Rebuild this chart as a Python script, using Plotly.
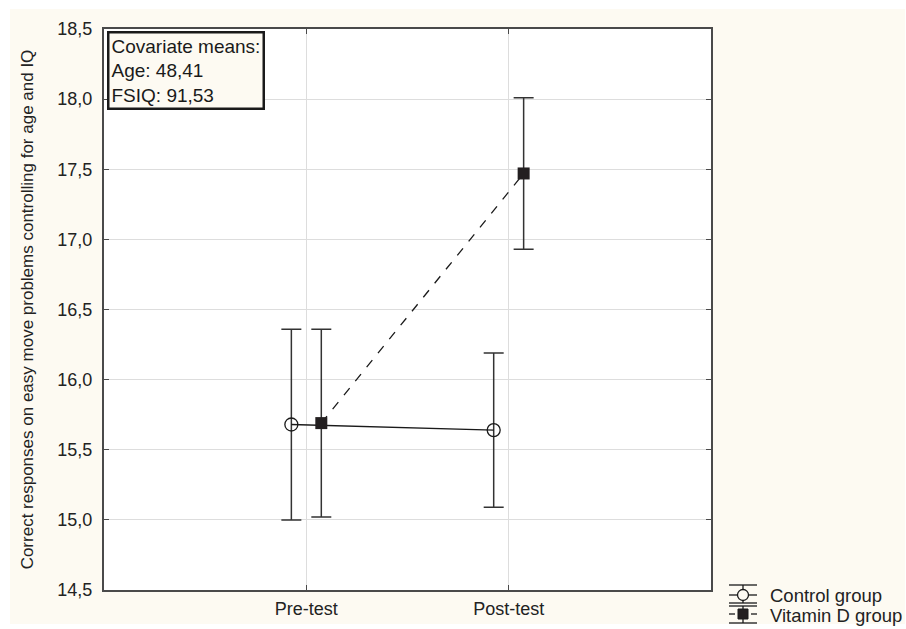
import plotly.graph_objects as go

categories = ["Pre-test", "Post-test"]
control_means = [15.68, 15.64]
control_ci = [0.68, 0.55]
vitd_means = [15.69, 17.47]
vitd_ci = [0.67, 0.54]
y_ticks = [14.5, 15.0, 15.5, 16.0, 16.5, 17.0, 17.5, 18.0, 18.5]
covariate_text = ["Covariate means:", "Age: 48,41", "FSIQ: 91,53"]
legend_names = ["Control group", "Vitamin D group"]

pos = [i + 1 for i in range(len(categories))]
off = 0.074
font = "Liberation Sans, Arial, sans-serif"
ink = "#1a1a1a"
cream = "#fdfaf2"

fig = go.Figure()
fig.add_trace(go.Scatter(
    x=[p - off for p in pos], y=control_means, name=legend_names[0],
    mode="lines+markers",
    line=dict(color=ink, width=1.3),
    marker=dict(symbol="circle-open", size=13, color=ink, line=dict(width=1.3)),
    error_y=dict(type="data", array=control_ci, visible=True, color="#333333", thickness=1.5, width=10),
))
fig.add_trace(go.Scatter(
    x=[p + off for p in pos], y=vitd_means, name=legend_names[1],
    mode="lines+markers",
    line=dict(color=ink, width=1.3, dash="dash"),
    marker=dict(symbol="square", size=12, color="#231f20"),
    error_y=dict(type="data", array=vitd_ci, visible=True, color="#333333", thickness=1.5, width=10),
))

W, H = 906, 629
L, R, T, B = 104, 711, 29, 590
pw, ph = R - L, B - T
def px(x): return (x - L) / pw
def py(y): return (B - y) / ph

shapes = []
shapes.append(dict(type="rect", xref="paper", yref="paper", x0=px(10), x1=px(905), y0=py(624), y1=py(9),
                   fillcolor=cream, line=dict(width=0), layer="below"))
shapes.append(dict(type="rect", xref="paper", yref="paper", x0=0, x1=1, y0=0, y1=1,
                   fillcolor="white", line=dict(width=0), layer="below"))

# custom legend glyphs (mean +/- CI symbol)
gx0, gx1, gcx = 729, 757, 743
def hline(y, x0=gx0, x1=gx1):
    return dict(type="line", xref="paper", yref="paper", x0=px(x0), x1=px(x1), y0=py(y), y1=py(y),
                line=dict(color=ink, width=1.3), layer="above")
def vline(y0, y1):
    return dict(type="line", xref="paper", yref="paper", x0=px(gcx), x1=px(gcx), y0=py(y0), y1=py(y1),
                line=dict(color=ink, width=1.3), layer="above")
# control
shapes += [hline(585), hline(595), hline(603), vline(585, 603)]
shapes.append(dict(type="circle", xref="paper", yref="paper", x0=px(gcx - 5.5), x1=px(gcx + 5.5),
                   y0=py(595 + 5.5), y1=py(595 - 5.5), line=dict(color=ink, width=1.3), fillcolor=cream,
                   layer="above"))
# vitamin D
shapes += [hline(606), hline(623), vline(606, 623), hline(614, gx0, 735), hline(614, 751, gx1)]
shapes.append(dict(type="rect", xref="paper", yref="paper", x0=px(gcx - 5), x1=px(gcx + 5),
                   y0=py(614 + 5), y1=py(614 - 5), line=dict(color=ink, width=1), fillcolor="#231f20",
                   layer="above"))

for name, yc in zip(legend_names, [595, 615]):
    fig.add_annotation(xref="paper", yref="paper", x=px(768), y=py(yc), xanchor="left", yanchor="middle",
                       text=name, showarrow=False, font=dict(family=font, size=18.5, color="#222222"))

fig.add_annotation(xref="paper", yref="paper", x=px(107), y=py(31), xanchor="left", yanchor="top",
                   text="<br>".join(covariate_text), showarrow=False, align="left",
                   font=dict(family=font, size=19, color=ink),
                   bordercolor=ink, borderwidth=2.5, borderpad=2, bgcolor=cream)

fig.update_layout(
    width=W, height=H, separators=", ",
    margin=dict(l=L, r=W - R, t=T, b=H - B, autoexpand=False),
    paper_bgcolor="white", plot_bgcolor="white",
    font=dict(family=font, size=18, color="#222222"),
    showlegend=False,
    shapes=shapes,
    xaxis=dict(range=[0, 3], tickvals=pos, ticktext=categories, showgrid=True, gridcolor="#dddddd",
               zeroline=False, showline=True, linecolor="#4a4a4a", linewidth=2, mirror="ticks",
               ticks="inside", ticklen=5, tickcolor="#4a4a4a", ticklabelstandoff=1,
               tickfont=dict(family=font, size=18, color="#222222")),
    yaxis=dict(range=[14.5, 18.5], tickvals=y_ticks, tickformat=".1f", showgrid=True, gridcolor="#dddddd",
               zeroline=False, showline=True, linecolor="#4a4a4a", linewidth=2, mirror="ticks",
               ticks="inside", ticklen=5, tickcolor="#4a4a4a", ticklabelstandoff=6,
               tickfont=dict(family=font, size=18, color="#222222"),
               title=dict(text="Correct responses on easy move problems controlling for age and IQ",
                          font=dict(family=font, size=17, color="#222222"), standoff=19)),
)

fig.write_html("out.html", config={"displayModeBar": False},
               post_script="document.body.style.margin='0px';document.body.style.overflow='hidden';")
